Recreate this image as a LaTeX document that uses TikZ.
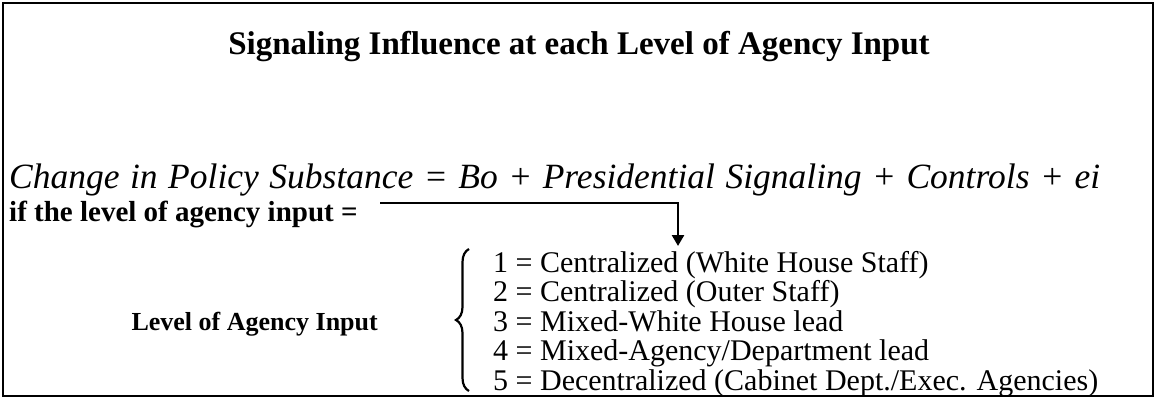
\documentclass[tikz,border=0pt]{standalone}
\usepackage{fontspec}
\setmainfont{Liberation Serif}
\usetikzlibrary{arrows.meta, positioning, decorations.pathreplacing}

\begin{document}
\begin{tikzpicture}[
	  x=1pt, y=-1pt,
	  node distance=115pt,
	  frame/.style={draw=black, line width=2.5pt},
	  heading/.style={font=\fontsize{33}{38}\selectfont\bfseries, inner sep=0pt, anchor=base},
	  formula/.style={font=\fontsize{35.5}{40}\selectfont\itshape, inner sep=0pt, anchor=base west},
	  condition/.style={font=\fontsize{29}{34}\selectfont\bfseries, inner sep=0pt, anchor=base west},
	  levelname/.style={font=\fontsize{26}{30}\selectfont\bfseries, inner sep=0pt},
	  levels/.style={font=\fontsize{30}{29.5}\selectfont, align=left, inner sep=0pt, anchor=north west},
	  arrow/.style={line width=2.5pt, -{Triangle[length=11pt, width=12pt]}},
	  bracket/.style={decorate, decoration={brace, amplitude=13pt, mirror}, line width=2.2pt}
	]

	\useasboundingbox (0,0) rectangle (1156,399);
	\draw [frame] (3,3) rectangle (1153,396);

	\node (title) [heading] at (579,54) {Signaling Influence at each Level of Agency Input};
	\node (model) [formula] at (9,188) {\spaceskip=10.5pt\relax Change in Policy Substance = Bo + Presidential Signaling + Controls + ei};
	\node (cond) [condition] at (9,221) {if the level of agency input =};

	\node (list) [levels] at (493,251) {1 = Centralized (White House Staff)\\
		2 = Centralized (Outer Staff)\\
		3 = Mixed-White House lead\\
		4 = Mixed-Agency/Department lead\\
		5 = Decentralized (Cabinet Dept./Exec. Agencies)};
	\node (level) [levelname, left=of list] {Level of Agency Input};

	\coordinate (start) at (380,203);
	\coordinate (tip) at (678,246);
	\draw [arrow] (start) -| (tip);
	\draw [bracket] (469,249) -- (469,391);

	\end{tikzpicture}
\end{document}
